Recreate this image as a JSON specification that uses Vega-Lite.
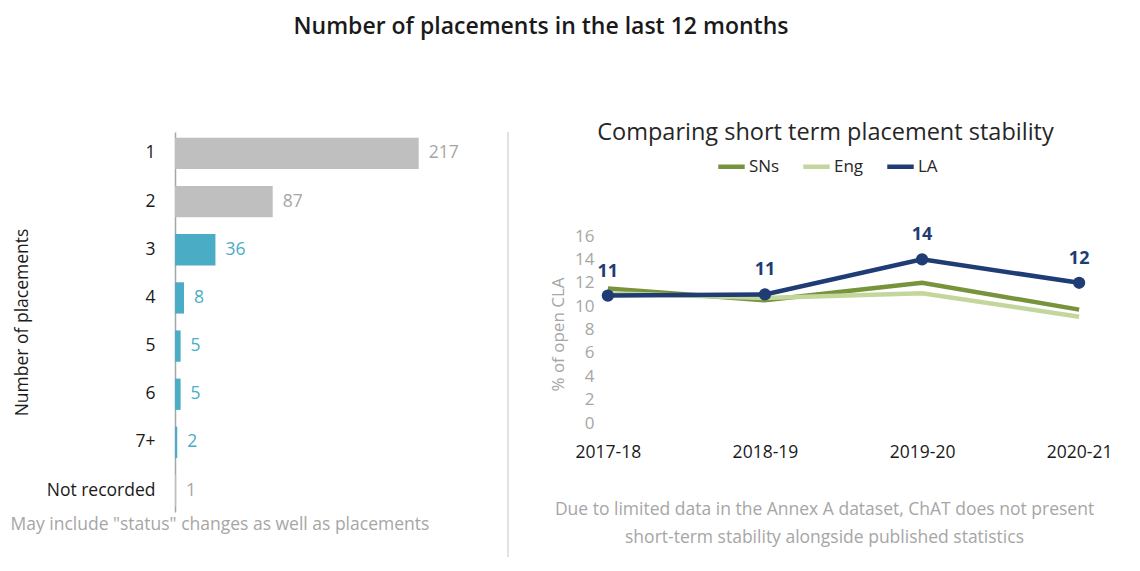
{
  "$schema": "https://vega.github.io/schema/vega-lite/v6.json",
  "background": "white",
  "padding": {"left": 10, "top": 15, "right": 5, "bottom": 5},
  "title": {"text": "Number of placements in the last 12 months", "fontSize": 23, "fontWeight": 600, "font": "Open Sans", "color": "#1a1a1a", "anchor": "middle", "offset": 82, "dx": -20},
  "config": {"font": "Open Sans", "view": {"stroke": null}},
  "spacing": 40,
  "hconcat": [
    {
      "width": 292,
      "height": 380,
      "data": {"values": [
        {"placements": "1", "count": 217, "grp": "g"},
        {"placements": "2", "count": 87, "grp": "g"},
        {"placements": "3", "count": 36, "grp": "t"},
        {"placements": "4", "count": 8, "grp": "t"},
        {"placements": "5", "count": 5, "grp": "t"},
        {"placements": "6", "count": 5, "grp": "t"},
        {"placements": "7+", "count": 2, "grp": "t"},
        {"placements": "Not recorded", "count": 1, "grp": "g"}
      ]},
      "encoding": {
        "y": {"field": "placements", "type": "nominal", "sort": null,
          "scale": {"paddingInner": 0.35, "paddingOuter": 0.12},
          "axis": {"title": "Number of placements", "titleFontSize": 17.5, "titleFontWeight": "normal", "titleColor": "#1a1a1a", "labelFontSize": 17.5, "labelColor": "#1a1a1a", "ticks": false, "domainColor": "#a6a6a6", "domainWidth": 1.5, "labelPadding": 20, "titlePadding": 15}},
        "x": {"field": "count", "type": "quantitative",
          "scale": {"domain": [0, 260], "nice": false},
          "axis": {"title": "May include \"status\" changes as well as placements", "labels": false, "ticks": false, "domain": false, "grid": false, "titleFontSize": 17.5, "titleFontWeight": "normal", "titleColor": "#a6a6a6", "titleX": -165, "titleAlign": "left", "titleAnchor": "start", "titlePadding": 3}}
      },
      "layer": [
        {"mark": {"type": "bar"},
         "encoding": {"color": {"field": "grp", "type": "nominal", "scale": {"domain": ["g", "t"], "range": ["#bfbfbf", "#4bacc6"]}, "legend": null}}},
        {"mark": {"type": "text", "align": "left", "dx": 10, "fontSize": 17.5},
         "encoding": {"text": {"field": "count", "type": "quantitative"},
           "color": {"field": "grp", "type": "nominal", "scale": {"domain": ["g", "t"], "range": ["#a6a6a6", "#4bacc6"]}, "legend": null}}}
      ],
      "resolve": {"scale": {"color": "independent"}}
    },
    {
      "width": 2,
      "height": 425,
      "data": {"values": [{"d": 0}]},
      "mark": {"type": "rule", "color": "#d9d9d9", "strokeWidth": 1.5},
      "encoding": {"x": {"field": "d", "type": "quantitative", "axis": null, "scale": {"domain": [-1, 1]}}}
    },
    {
      "width": 487,
      "height": 291,
      "title": {"text": "Comparing short term placement stability", "fontSize": 23.5, "fontWeight": "normal", "color": "#262626", "frame": "group", "offset": -12, "dx": -18},
      "data": {"values": [
        {"year": "2017-18", "series": "SNs", "value": 11.5},
        {"year": "2018-19", "series": "SNs", "value": 10.5},
        {"year": "2019-20", "series": "SNs", "value": 12.0},
        {"year": "2020-21", "series": "SNs", "value": 9.7},
        {"year": "2017-18", "series": "Eng", "value": 11.1},
        {"year": "2018-19", "series": "Eng", "value": 10.7},
        {"year": "2019-20", "series": "Eng", "value": 11.1},
        {"year": "2020-21", "series": "Eng", "value": 9.1},
        {"year": "2017-18", "series": "LA", "value": 10.9},
        {"year": "2018-19", "series": "LA", "value": 11.0},
        {"year": "2019-20", "series": "LA", "value": 14.0},
        {"year": "2020-21", "series": "LA", "value": 12.0}
      ]},
      "encoding": {
        "x": {"field": "year", "type": "ordinal", "scale": {"type": "point", "padding": 0.05},
          "axis": {"labelFontSize": 17.5, "labelColor": "#1a1a1a", "labelFontWeight": 500, "labelAngle": 0, "domain": false, "ticks": false, "labelPadding": 20,
            "title": ["Due to limited data in the Annex A dataset, ChAT does not present", "short-term stability alongside published statistics"],
            "titleFontSize": 17.5, "titleFontWeight": "normal", "titleColor": "#a6a6a6", "titlePadding": 40, "titleLineHeight": 28, "titleX": 224, "titleAlign": "center"}},
        "y": {"field": "value", "type": "quantitative", "scale": {"domain": [0, 24.9], "nice": false},
          "axis": {"title": "% of open CLA", "titleColor": "#a6a6a6", "titleFontSize": 17, "titleFontWeight": "normal", "titleY": 202, "labelColor": "#a6a6a6", "labelFontSize": 17, "domain": false, "ticks": false, "grid": false, "values": [0, 2, 4, 6, 8, 10, 12, 14, 16], "labelPadding": 6, "titlePadding": 7}}
      },
      "layer": [
        {"transform": [{"filter": "datum.series !== 'LA'"}],
         "mark": {"type": "line", "strokeWidth": 4.5},
         "encoding": {"color": {"field": "series", "type": "nominal", "sort": ["SNs", "Eng", "LA"],
           "scale": {"domain": ["SNs", "Eng", "LA"], "range": ["#77933c", "#c3d69b", "#1f3c74"]},
           "legend": {"orient": "none", "legendX": 541, "legendY": 19, "direction": "horizontal", "title": null, "labelFontSize": 17, "labelColor": "#262626", "symbolType": "stroke", "symbolStrokeWidth": 4.5, "symbolSize": 700, "labelOffset": 2, "columnPadding": 14}}}},
        {"transform": [{"filter": "datum.series === 'LA'"}],
         "mark": {"type": "line", "strokeWidth": 4.5},
         "encoding": {"color": {"field": "series", "type": "nominal"}}},
        {"transform": [{"filter": "datum.series === 'LA'"}],
         "mark": {"type": "point", "filled": true, "size": 150, "opacity": 1, "color": "#1f3c74"}},
        {"transform": [{"filter": "datum.series === 'LA'"}],
         "mark": {"type": "text", "dy": -24, "fontSize": 18, "fontWeight": "bold", "color": "#1f3c74"},
         "encoding": {"text": {"field": "value", "type": "quantitative", "format": ".0f"}}}
      ]
    }
  ]
}
